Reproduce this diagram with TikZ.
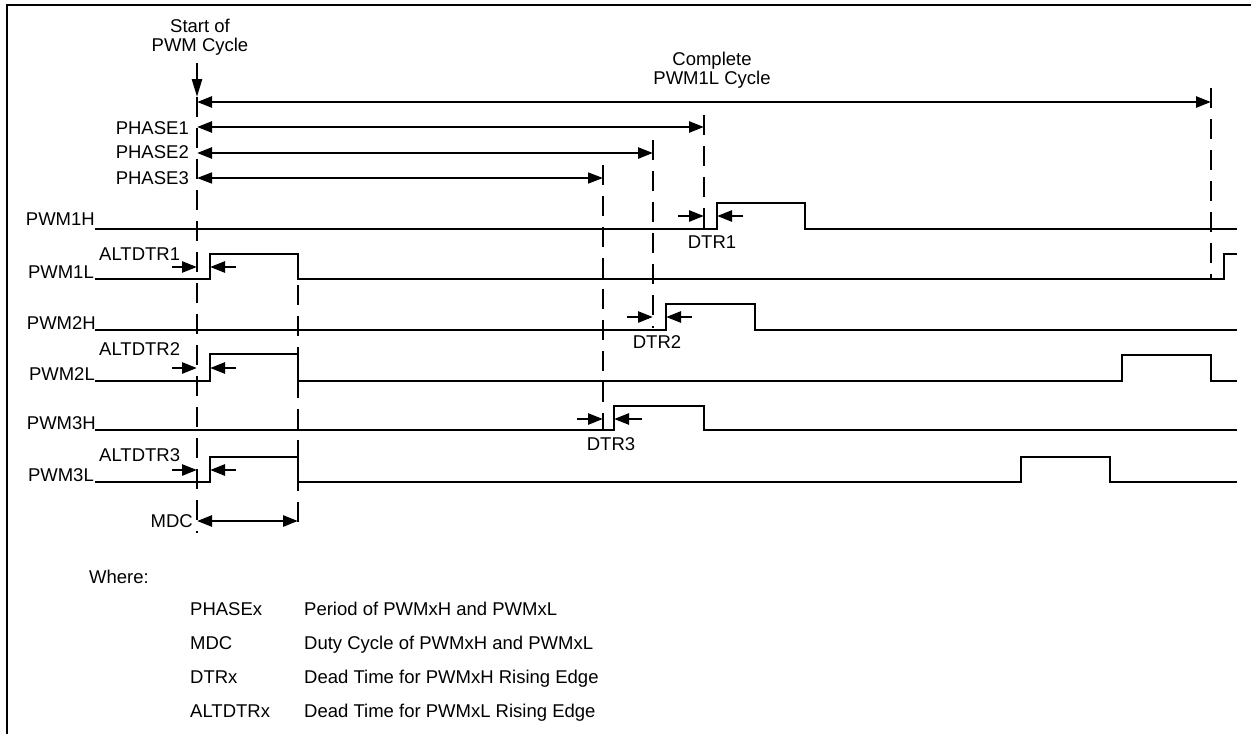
\documentclass[tikz,border=0pt]{standalone}
\usepackage{fontspec}
\setmainfont{Liberation Sans}
\usetikzlibrary{arrows.meta}
\usetikzlibrary{positioning}
\tikzset{
    objLabel/.style={inner sep=0pt, font=\fontsize{18.5}{19}\selectfont},
    objSignal/.style={line width=2.9pt, line join=miter},
    objMarker/.style={line width=2.7pt, dash pattern=on 20pt off 11pt},
    arrow/.style={line width=2.6pt, -{Triangle[length=15pt,width=11pt]}},
    dimArrow/.style={line width=2.6pt, {Triangle[length=15pt,width=11pt]}-{Triangle[length=15pt,width=11pt]}}
}

\begin{document}
\begin{tikzpicture}[x=1pt, y=-1pt]
    \useasboundingbox (0,0) rectangle (1251,734);

    % frame
    \draw [line width=2.8pt] (7,734) -- (7,5) -- (1251,5);

    % headings
    \node (start) [objLabel, align=center] at (200,37) {Start of\\PWM Cycle};
    \node (complete) [objLabel, align=center] at (712,70) {Complete\\PWM1L Cycle};
    \coordinate (startTip) at (197,97);
    \draw [line width=2.6pt, -{Triangle[length=18pt,width=10pt]}] (197,63) -- (startTip);

    % time markers
    \draw [objMarker] (197,97) -- (197,533);
    \draw [objMarker] (298,254) -- (298,533);
    \draw [objMarker] (603,165) -- (603,430);
    \draw [objMarker] (653,140) -- (653,328);
    \draw [objMarker] (704,115) -- (704,228);
    \draw [objMarker] (1211,88) -- (1211,278);

    % periods
    \draw [dimArrow] (197,102) -- (1211,102);
    \node (phase1) [objLabel, anchor=east] at (189,128) {PHASE1};
    \node (phase2) [objLabel, anchor=east] at (189,152) {PHASE2};
    \node (phase3) [objLabel, anchor=east] at (189,178) {PHASE3};
    \draw [dimArrow] (197,127) -- (704,127);
    \draw [dimArrow] (197,153) -- (653,153);
    \draw [dimArrow, line width=1.6pt] (197,178) -- (603,178);

    % signals
    \node (pwm1h) [objLabel, anchor=base east] at (95,225) {PWM1H};
    \node (pwm1l) [objLabel, anchor=base east] at (94,278) {PWM1L};
    \node (pwm2h) [objLabel, anchor=base east] at (96,329) {PWM2H};
    \node (pwm2l) [objLabel, anchor=base east] at (95,380) {PWM2L};
    \node (pwm3h) [objLabel, anchor=base east] at (96,429) {PWM3H};
    \node (pwm3l) [objLabel, anchor=base east] at (94,481) {PWM3L};
    \draw [objSignal] (95,229) -- (717,229) -- (717,203) -- (805,203) -- (805,229) -- (1237,229);
    \draw [objSignal] (95,279) -- (210,279) -- (210,254) -- (298,254) -- (298,279) -- (1224,279) -- (1224,254) -- (1237,254);
    \draw [objSignal] (95,330) -- (666,330) -- (666,304) -- (755,304) -- (755,330) -- (1237,330);
    \draw [objSignal] (95,381) -- (210,381) -- (210,354) -- (298,354) -- (298,381) -- (1122,381) -- (1122,355) -- (1211,355) -- (1211,381) -- (1237,381);
    \draw [objSignal] (95,430) -- (614,430) -- (614,406) -- (704,406) -- (704,430) -- (1237,430);
    \draw [objSignal] (95,482) -- (210,482) -- (210,457) -- (298,457) -- (298,482) -- (1021,482) -- (1021,457) -- (1110,457) -- (1110,482) -- (1237,482);

    % dead times
    \node (altdtr1) [objLabel, anchor=base west] at (99,260) {ALTDTR1};
    \node (altdtr2) [objLabel, anchor=base west] at (99,355) {ALTDTR2};
    \node (altdtr3) [objLabel, anchor=base west] at (99,461) {ALTDTR3};
    \draw [arrow] (172,267) -- (197,267);
    \draw [arrow] (236,267) -- (210,267);
    \draw [arrow] (172,368) -- (197,368);
    \draw [arrow] (236,368) -- (210,368);
    \draw [arrow] (172,470) -- (197,470);
    \draw [arrow] (236,470) -- (210,470);

    \node (dtr1) [objLabel] at (712,242) {DTR1};
    \node (dtr2) [objLabel] at (657,342) {DTR2};
    \node (dtr3) [objLabel] at (611,444) {DTR3};
    \draw [arrow] (678,216) -- (704,216);
    \draw [arrow] (743,216) -- (717,216);
    \draw [arrow] (627,317) -- (653,317);
    \draw [arrow] (692,317) -- (666,317);
    \draw [arrow] (577,419) -- (603,419);
    \draw [arrow] (642,419) -- (614,419);

    % duty cycle
    \node (mdc) [objLabel, anchor=east] at (193,521) {MDC};
    \draw [dimArrow] (197,521) -- (298,521);

    % legend
    \node (where) [objLabel, anchor=base west] at (89,583) {Where:};
    \node (k1) [objLabel, anchor=base west] at (190,615) {PHASEx};
    \node (k2) [objLabel, anchor=base west] at (190,649) {MDC};
    \node (k3) [objLabel, anchor=base west] at (190,683) {DTRx};
    \node (k4) [objLabel, anchor=base west] at (190,717) {ALTDTRx};
    \node (v1) [objLabel, anchor=base west] at (304,615) {Period of PWMxH and PWMxL};
    \node (v2) [objLabel, anchor=base west] at (304,649) {Duty Cycle of PWMxH and PWMxL};
    \node (v3) [objLabel, anchor=base west] at (304,683) {Dead Time for PWMxH Rising Edge};
    \node (v4) [objLabel, anchor=base west] at (304,717) {Dead Time for PWMxL Rising Edge};

\end{tikzpicture}
\end{document}
